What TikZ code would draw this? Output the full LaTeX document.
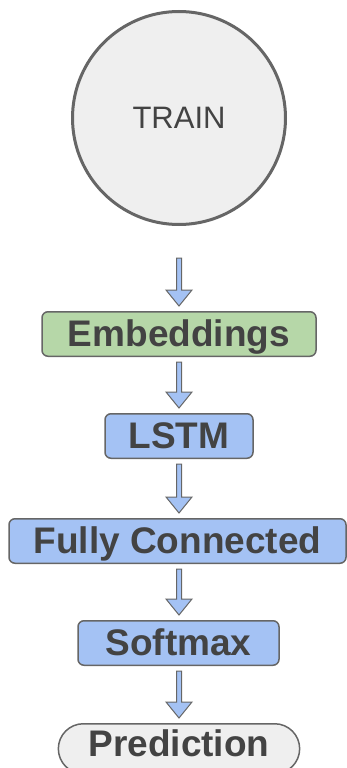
\documentclass[tikz,border=0pt]{standalone}
\usepackage{fontspec}
\setmainfont{Liberation Sans}
\usetikzlibrary{shapes.misc,positioning,calc}

\definecolor{linegray}{HTML}{666666}
\definecolor{textgray}{HTML}{434343}
\definecolor{softgray}{HTML}{EFEFEF}
\definecolor{layergreen}{HTML}{B6D7A8}
\definecolor{layerblue}{HTML}{A4C2F4}

\begin{document}
\begin{tikzpicture}[
        x=1pt, y=1pt,
        node distance=56pt,
        every node/.style={align=center, text=textgray},
        layer/.style={rectangle, draw=linegray, line width=1.5pt, rounded corners=6pt, inner ysep=0pt, text height=28pt, text depth=2.6pt, minimum height=44.5pt, font=\fontsize{37}{40}\selectfont\bfseries},
        embed/.style={layer, fill=layergreen},
        dense/.style={layer, fill=layerblue},
        start/.style={circle, draw=linegray, line width=3pt, fill=softgray, minimum size=213pt, font=\fontsize{31}{36}\selectfont},
        output/.style={rounded rectangle, draw=linegray, line width=1.5pt, fill=softgray, inner ysep=0pt, text height=16pt, text depth=0pt, minimum height=50pt, font=\fontsize{37}{40}\selectfont\bfseries},
        flow/.style={draw=linegray, fill=layerblue, line width=1pt, to path={
            let \p1=(\tikztostart), \p2=(\tikztotarget) in
            (\x1-2.5pt,\y1) -- (\x1-2.5pt,\y2+16pt) -- (\x1-13pt,\y2+16pt) -- (\x1,\y2)
            -- (\x1+13pt,\y2+16pt) -- (\x1+2.5pt,\y2+16pt) -- (\x1+2.5pt,\y1) -- cycle}}
    ]
        \useasboundingbox (0,0) rectangle (346,-768);

        % Nodes
        \node[start] (train) at (179,-118) {TRAIN};
        \node[embed, minimum width=274pt, below=85pt of train] (embed) {Embeddings};
        \node[dense, minimum width=148pt, below=of embed] (lstm) {LSTM};
        \node[dense, minimum width=337pt, below=59pt of lstm, xshift=-1.5pt] (fc) {Fully Connected};
        \node[dense, minimum width=201pt, below=of fc, xshift=1pt] (softmax) {Softmax};
        \node[output, minimum width=248pt, below=57pt of softmax, xshift=0.5pt] (pred) {Prediction};

        % Connections
        \draw[flow] ([yshift=-32pt]train.south) to ([yshift=5pt]embed.north);
        \draw[flow] ([yshift=-5pt]embed.south) to ([yshift=5pt]lstm.north);
        \draw[flow] ([yshift=-5pt]lstm.south) to ([yshift=5pt]lstm.south |- fc.north);
        \draw[flow] ([yshift=-5pt]lstm.south |- fc.south) to ([yshift=5pt]lstm.south |- softmax.north);
        \draw[flow] ([yshift=-5pt]lstm.south |- softmax.south) to ([yshift=5pt]pred.north);

    \end{tikzpicture}
\end{document}
